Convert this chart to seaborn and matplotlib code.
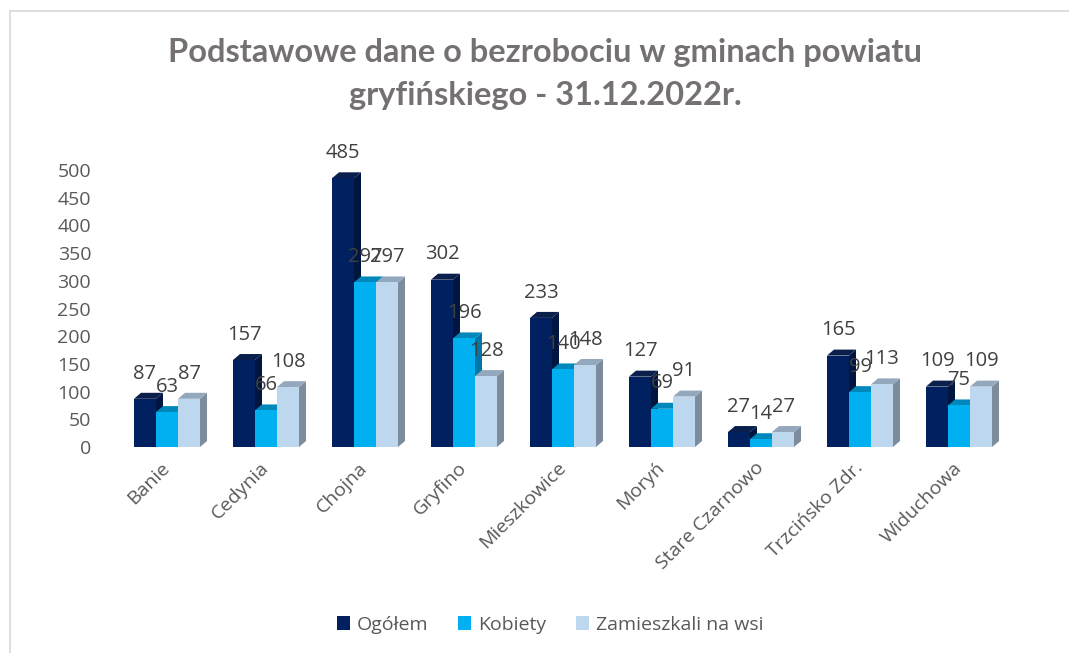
import numpy as np
import pandas as pd
import matplotlib
matplotlib.use("Agg")
import matplotlib.pyplot as plt
from matplotlib.patches import Polygon, Rectangle, Patch
import seaborn as sns

categories = ["Banie", "Cedynia", "Chojna", "Gryfino", "Mieszkowice", "Moryń",
              "Stare Czarnowo", "Trzcińsko Zdr.", "Widuchowa"]
ogolem = [87, 157, 485, 302, 233, 127, 27, 165, 109]
kobiety = [63, 66, 297, 196, 140, 69, 14, 99, 75]
wies = [87, 108, 297, 128, 148, 91, 27, 113, 109]
series_names = ["Ogółem", "Kobiety", "Zamieszkali na wsi"]
yticks = [0, 50, 100, 150, 200, 250, 300, 350, 400, 450, 500]
title = "Podstawowe dane o bezrobociu w gminach powiatu\ngryfińskiego - 31.12.2022r."

front = ["#002060", "#00B0F0", "#BDD7EE"]
top_c = ["#0b1f4d", "#0088bb", "#93a8bd"]
side_c = ["#001540", "#0077a6", "#7c8c9c"]
gray = "#595959"

df = pd.DataFrame({
    "Gmina": categories * 3,
    "Seria": sum([[s] * len(categories) for s in series_names], []),
    "Wartość": ogolem + kobiety + wies,
})

sns.set_theme(style="white")
plt.rcParams["font.family"] = ["Open Sans", "DejaVu Sans"]

fig = plt.figure(figsize=(10.69, 6.53), dpi=100)
ax = fig.add_axes([117.5 / 1069, 1 - 447 / 653, 891 / 1069, 277 / 653])

sns.barplot(data=df, x="Gmina", y="Wartość", hue="Seria", palette=front,
            width=0.667, gap=0, dodge=True, ax=ax, legend=False,
            saturation=1, err_kws={"linewidth": 0})
ax.set_xlim(-0.5, len(categories) - 0.5)
ax.set_ylim(0, 500)

# 3D faces
dx_px, dy_px = 7, 6
dx = dx_px / 99.0
dy = dy_px * 500 / 277.0
n = len(categories)
for i, cont in enumerate(ax.containers):
    for p in cont.patches:
        p.set_zorder(3 + i * 2)
        p.set_edgecolor("none")
        x0, w, h = p.get_x(), p.get_width(), p.get_height()
        side = Polygon([(x0 + w, 0), (x0 + w + dx, dy), (x0 + w + dx, h + dy), (x0 + w, h)],
                       closed=True, facecolor=side_c[i], edgecolor="none", zorder=2 + i * 2,
                       clip_on=False)
        top = Polygon([(x0, h), (x0 + dx, h + dy), (x0 + w + dx, h + dy), (x0 + w, h)],
                      closed=True, facecolor=top_c[i], edgecolor="none", zorder=2 + i * 2,
                      clip_on=False)
        ax.add_patch(side)
        ax.add_patch(top)
    ax.bar_label(cont, labels=[str(int(v)) for v in cont.datavalues], padding=11,
                 fontsize=14.5, color="#404040", zorder=20)

for s in ax.spines.values():
    s.set_visible(False)
ax.set_yticks(yticks)
ax.tick_params(axis="y", length=0, pad=19, labelsize=14, labelcolor=gray)
ax.tick_params(axis="x", length=0, pad=13, labelsize=14, labelcolor=gray)
ax.set_xticks(range(n))
ax.set_xticklabels(categories, rotation=45, ha="right", rotation_mode="anchor", va="center")
ax.set_xlabel("")
ax.set_ylabel("")
ax.grid(False)

fig.text(545 / 1069, 1 - 74 / 653, title, ha="center", va="center", fontsize=23.5,
         fontweight="bold", color="#767171", family=["Lato", "DejaVu Sans"],
         linespacing=1.6)

handles = [Patch(facecolor=c, edgecolor="none") for c in front]
fig.legend(handles, series_names, loc="center", bbox_to_anchor=(550 / 1069, 1 - 625 / 653),
           ncol=3, frameon=False, handlelength=0.7, handleheight=0.7, handletextpad=0.35,
           columnspacing=1.5, fontsize=14, labelcolor=gray)

fig.patches.append(Rectangle((10 / 1069, -0.01), 1.02, 1 - 11 / 653 + 0.01,
                             transform=fig.transFigure, facecolor="none",
                             edgecolor="#d9d9d9", linewidth=1.2, zorder=0))

fig.savefig("out.png", dpi=100)
